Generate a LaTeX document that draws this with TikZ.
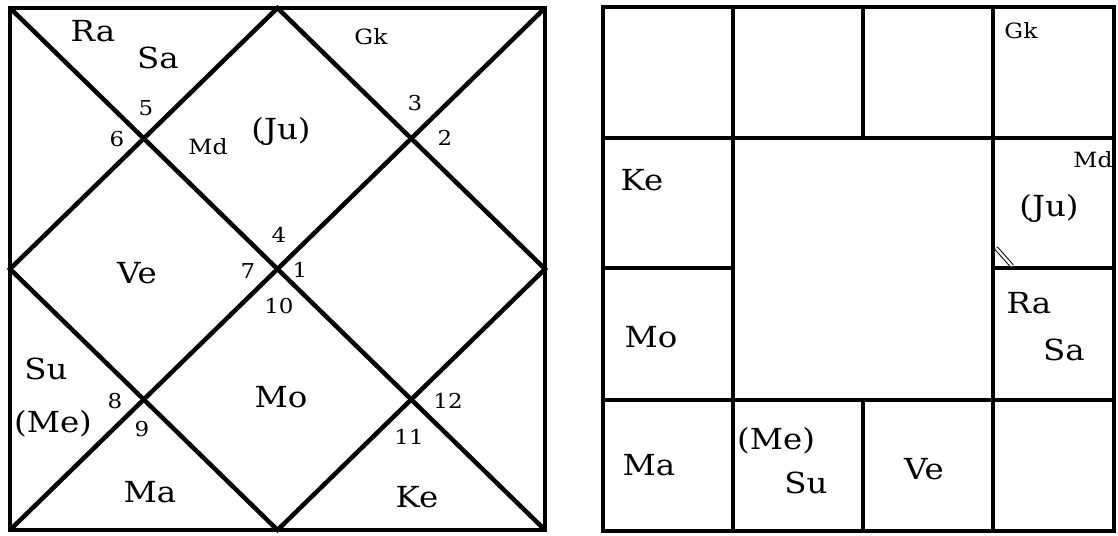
\documentclass[tikz,border=0pt]{standalone}
\usepackage{fontspec}
\setmainfont[FakeStretch=1.12]{DejaVu Serif}
\begin{document}
\begin{tikzpicture}[x=1pt,y=-1pt,
  chartline/.style={line width=4.5pt, line join=miter},
  planet/.style={font=\fontsize{29}{29}\selectfont, inner sep=0pt},
  num/.style={font=\fontsize{20.5}{20.5}\selectfont, inner sep=0pt},
  tag/.style={font=\fontsize{21}{21}\selectfont, inner sep=0pt}]
\useasboundingbox (0,0) rectangle (1118,535);
% ---------- left chart (North Indian) ----------
\coordinate (LTL) at (10,8);
\coordinate (LTR) at (545,8);
\coordinate (LBL) at (10,530);
\coordinate (LBR) at (545,530);
\coordinate (LT) at (277.5,8);
\coordinate (LB) at (277.5,530);
\coordinate (LL) at (10,269);
\coordinate (LR) at (545,269);
\draw[chartline] (LTL) rectangle (LBR);
\draw[chartline] (LTL) -- (LBR);
\draw[chartline] (LTR) -- (LBL);
\draw[chartline] (LT) -- (LR) -- (LB) -- (LL) -- cycle;
\node[planet] (lra) at (93,31) {Ra};
\node[planet] (lsa) at (158,58) {Sa};
\node[num] (n5) at (146,108) {5};
\node[num] (n6) at (117,139) {6};
\node[tag] (lmd) at (208,147) {Md};
\node[planet] (lju) at (281,131) {(Ju)};
\node[tag] (lgk) at (371,37) {Gk};
\node[num] (n3) at (415,103) {3};
\node[num] (n2) at (445,138) {2};
\node[num] (n4) at (279,235) {4};
\node[planet] (lve) at (137,273) {Ve};
\node[num] (n7) at (248,271) {7};
\node[num] (n1) at (300,270) {1};
\node[num] (n10) at (279,306) {10};
\node[planet] (lsu) at (46,369) {Su};
\node[planet] (lme) at (53,424) {(Me)};
\node[num] (n8) at (115,401) {8};
\node[num] (n9) at (142,429) {9};
\node[planet] (lmo) at (281,397) {Mo};
\node[num] (n12) at (448,401) {12};
\node[num] (n11) at (409,437) {11};
\node[planet] (lma) at (150,492) {Ma};
\node[planet] (lke) at (417,497) {Ke};
% ---------- right chart (South Indian) ----------
\coordinate (RTL) at (603,7);
\coordinate (RBR) at (1114,531);
\draw[chartline] (RTL) rectangle (RBR);
\draw[chartline] (603,138) -- (1114,138);
\draw[chartline] (603,400) -- (1114,400);
\draw[chartline] (603,268) -- (733,268);
\draw[chartline] (993,268) -- (1114,268);
\draw[chartline] (733,7) -- (733,531);
\draw[chartline] (993,7) -- (993,531);
\draw[chartline] (863,7) -- (863,138);
\draw[chartline] (863,400) -- (863,531);
\draw[double, line width=1pt, double distance=2.4pt] (996,248) -- (1012,266);
\node[tag] (rgk) at (1021,31) {Gk};
\node[tag] (rmd) at (1093,160) {Md};
\node[planet] (rke) at (642,180) {Ke};
\node[planet] (rju) at (1049,208) {(Ju)};
\node[planet] (rmo) at (651,337) {Mo};
\node[planet] (rra) at (1029,303) {Ra};
\node[planet] (rsa) at (1064,350) {Sa};
\node[planet] (rma) at (649,465) {Ma};
\node[planet] (rme) at (776,441) {(Me)};
\node[planet] (rsu) at (806,483) {Su};
\node[planet] (rve) at (924,469) {Ve};
\end{tikzpicture}
\end{document}
